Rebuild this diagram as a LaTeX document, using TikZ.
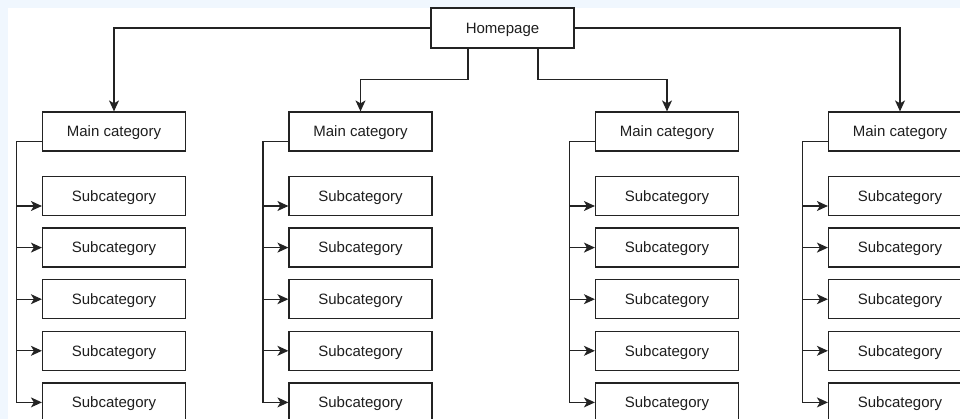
\documentclass[tikz,border=0pt]{standalone}
\usepackage{fontspec}
\setmainfont{Liberation Sans}
\usetikzlibrary{arrows.meta,calc}
\definecolor{bgblue}{RGB}{240,247,254}
\definecolor{lineC}{RGB}{35,35,35}
\definecolor{txtC}{RGB}{30,30,30}
\begin{document}
\begin{tikzpicture}[x=1pt,y=-1pt,
  box/.style={draw=lineC,line width=1.2pt,fill=white,minimum width=143pt,minimum height=39pt,inner sep=0pt,text height=10.7pt,text depth=0pt,text=txtC,font=\fontsize{15pt}{18pt}\selectfont},
  conn/.style={draw=lineC,line width=1.2pt},
  arr/.style={conn,-{Stealth[length=11pt,width=10pt,inset=3pt]}}]
\useasboundingbox (0,0) rectangle (960,419);
\clip (0,0) rectangle (960,419);
\fill[bgblue] (0,0) rectangle (960,419);
\fill[white] (8,8) rectangle (960,419);

\node[box,minimum height=40pt] (home) at (502.5,28) {Homepage};

\foreach \i/\cx in {1/114,2/360.5,3/667,4/900}{
  \node[box] (m\i) at (\cx,131.5) {Main category};
  \foreach \j/\cy in {1/196,2/247.6,3/299.2,4/350.8,5/402.4}{
    \node[box] (s\i\j) at (\cx,\cy) {Subcategory};
  }
}

% top-level connectors
\draw[arr] (home.west) -| (m1.north);
\draw[arr] ([xshift=-34.5pt]home.south) -- ++(0,31) -| (m2.north);
\draw[arr] ([xshift=35.5pt]home.south) -- ++(0,31) -| (m3.north);
\draw[arr] (home.east) -| (m4.north);

% sub connectors
\foreach \i in {1,2,3,4}{
  \draw[arr] ([yshift=-10pt]m\i.west) -- ++(-25.5,0) |- ([yshift=-10pt]s\i1.west);
  \foreach \j in {2,3,4,5}{
    \draw[arr] ([yshift=-10pt]m\i.west) -- ++(-25.5,0) |- (s\i\j.west);
  }
}
\end{tikzpicture}
\end{document}
